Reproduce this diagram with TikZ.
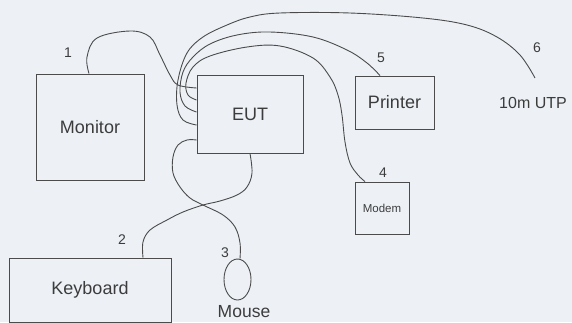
\documentclass[tikz,border=0pt]{standalone}
\usepackage{fontspec}
\setmainfont{Liberation Sans}
\usetikzlibrary{shapes.geometric}
\definecolor{bg}{RGB}{237,241,246}
\definecolor{ink}{RGB}{75,75,75}
\definecolor{txt}{RGB}{60,60,60}
\begin{document}
\begin{tikzpicture}[x=1pt,y=-1pt,
  box/.style={draw=ink,line width=0.9pt,fill=bg,text=txt,inner sep=0pt,font=\fontsize{18}{20}\selectfont},
  num/.style={text=txt,inner sep=0pt,font=\fontsize{14}{16}\selectfont},
  cable/.style={draw=ink,line width=0.9pt}]
\fill[bg] (0,0) rectangle (572,322);
\useasboundingbox (0,0) rectangle (572,322);
% devices
\node[box,minimum width=108pt,minimum height=106pt] (mon) at (90,127) {Monitor};
\node[box,minimum width=106pt,minimum height=78pt] (eut) at (250,114) {EUT};
\node[box,minimum width=79pt,minimum height=53pt] (prn) at (394.5,102.5) {Printer};
\node[box,minimum width=54pt,minimum height=52pt,font=\fontsize{11.5}{13}\selectfont] (mdm) at (382,208) {Modem};
\node[box,minimum width=162pt,minimum height=64pt] (kbd) at (90,290) {Keyboard};
\node[box,ellipse,minimum width=27pt,minimum height=41pt] (mouse) at (237.5,279.5) {};
\node[text=txt,inner sep=0pt,font=\fontsize{17.5}{19}\selectfont] (mlab) at (244,312) {Mouse};
\node[text=txt,inner sep=0pt,font=\fontsize{16}{18}\selectfont] (utp) at (533,103) {10m UTP};
\coordinate (c6) at (535,78);
% numbers
\node[num] (n1) at (68,53) {1};
\node[num] (n2) at (122,240) {2};
\node[num] (n3) at (225,253) {3};
\node[num] (n4) at (383,173) {4};
\node[num] (n5) at (381,58) {5};
\node[num] (n6) at (537,48) {6};
% cables
\draw[cable] plot[smooth,tension=0.6] coordinates {([xshift=-1pt]mon.north) (87,57) (97,38) (130,31) (150,37) (160,55) (170,75) (178,85) ([yshift=26pt]eut.west)};
\draw[cable] plot[smooth,tension=0.6] coordinates {([yshift=14pt]eut.west) (188,95) (186,83) (193,67) (210,56) (247,47) (280,46) (313,58) (330,77) (338,95) (342,115) (345,142) (350,163) (358,175) ([xshift=-17pt]mdm.north)};
\draw[cable] plot[smooth,tension=0.6] coordinates {([yshift=2pt]eut.west) (185,106) (180,92) (183,72) (193,57) (210,44) (237,35) (270,32) (313,37) (347,50) (367,63) ([xshift=-14.5pt]prn.north)};
\draw[cable] plot[smooth,tension=0.6] coordinates {([yshift=-11pt]eut.west) (183,120) (177,105) (178,80) (187,53) (203,37) (227,25) (250,17) (280,13) (350,13) (423,18) (467,25) (497,37) (520,55) (c6)};
\draw[cable] plot[smooth,tension=0.6] coordinates {([yshift=-26pt]eut.west) (187,140) (178,145) (173,157) (173,173) (180,187) (190,198) (203,205) (223,215) (235,227) (240,243) ([xshift=2.5pt]mouse.north)};
\draw[cable] plot[smooth,tension=0.6] coordinates {(eut.south) (252,173) (247,187) (237,195) (220,201) (203,205) (183,212) (167,220) (150,230) (143,242) ([xshift=53pt]kbd.north)};
\end{tikzpicture}
\end{document}
